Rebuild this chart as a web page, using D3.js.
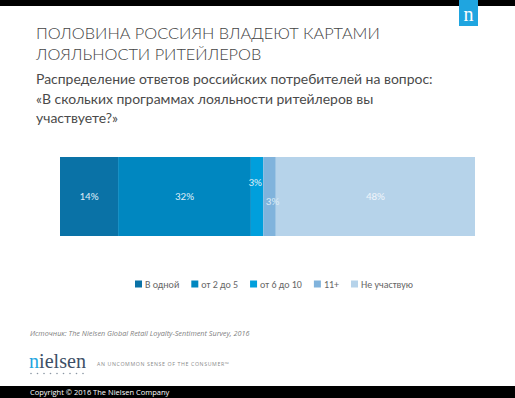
<!DOCTYPE html>
<html>
<head>
<meta charset="utf-8">
<script src="https://cdn.jsdelivr.net/npm/d3@7"></script>
<style>
  body { margin: 0; background: #fff; }
  svg { display: block; }
</style>
</head>
<body>
<div id="vis"></div>
<script>
const categories = ["В одной", "от 2 до 5", "от 6 до 10", "11+", "Не участвую"];
const shares = [14, 32, 3, 3, 48];
const barLabels = ["14%", "32%", "3%", "3%", "48%"];
const titleLines = ["ПОЛОВИНА РОССИЯН ВЛАДЕЮТ КАРТАМИ", "ЛОЯЛЬНОСТИ РИТЕЙЛЕРОВ"];
const subtitleLines = [
  "Распределение ответов российских потребителей на вопрос:",
  "«В скольких программах лояльности ритейлеров вы",
  "участвуете?»"
];
const sourceText = "Источник: The Nielsen Global Retail Loyalty-Sentiment Survey, 2016";

const colors = ["#0a72a6", "#0087c0", "#009fdc", "#80b3dc", "#b6d3ea"];
// small labels on the thin segments get pushed off each other
const labelShift = [[0, 0], [0, 0], [-2, -14], [3, 5], [0, 0]];

const W = 515, H = 398;
const svg = d3.select("#vis").append("svg")
  .attr("width", W)
  .attr("height", H);

svg.append("rect").attr("width", W).attr("height", H).attr("fill", "#fff");

// black bands top and bottom
svg.append("rect").attr("x", 0).attr("y", 0).attr("width", W).attr("height", 6).attr("fill", "#000");
svg.append("rect").attr("x", 0).attr("y", 386).attr("width", W).attr("height", 12).attr("fill", "#000");

// nielsen corner badge
svg.append("rect").attr("x", 459).attr("y", 0).attr("width", 19).attr("height", 26).attr("fill", "#1fa5e0");
svg.append("text")
  .attr("x", 468.5).attr("y", 21)
  .attr("text-anchor", "middle")
  .attr("font-family", "'Liberation Serif', 'DejaVu Serif', serif")
  .attr("font-size", 20)
  .attr("fill", "#fff")
  .text("n");

const fitText = (sel, target) => {
  const w = sel.node().getComputedTextLength();
  const fs = parseFloat(sel.attr("font-size"));
  sel.attr("font-size", fs * target / w);
};

// title
const titleFont = "Lato, 'Open Sans', 'DejaVu Sans', sans-serif";
const t1 = svg.append("text")
  .attr("x", 36).attr("y", 39)
  .attr("font-family", titleFont)
  .attr("font-weight", 300)
  .attr("font-size", 17)
  .attr("fill", "#444")
  .text(titleLines[0]);
fitText(t1, 344);
svg.append("text")
  .attr("x", 36).attr("y", 60)
  .attr("font-family", titleFont)
  .attr("font-weight", 300)
  .attr("font-size", t1.attr("font-size"))
  .attr("fill", "#444")
  .text(titleLines[1]);

// subtitle
const subText = svg.append("g")
  .attr("font-family", titleFont)
  .attr("fill", "#4a4a4a")
  .selectAll("text")
  .data(subtitleLines)
  .join("text")
  .attr("x", 36)
  .attr("y", (d, i) => 84 + i * 19.5)
  .attr("font-size", 13.5)
  .text(d => d);
const s0 = d3.select(subText.nodes()[0]);
fitText(s0, 397);
subText.attr("font-size", s0.attr("font-size"));

// stacked bar
const x = d3.scaleLinear().domain([0, 100]).range([60, 475]);
const y = d3.scaleBand().domain(["all"]).range([157, 236]).padding(0);

const ends = Array.from(d3.cumsum(shares));
const segs = shares.map((v, i) => ({
  cat: categories[i],
  v,
  x0: ends[i] - v,
  x1: ends[i],
  label: barLabels[i],
  color: colors[i],
  shift: labelShift[i]
}));

const bar = svg.append("g");
bar.selectAll("rect")
  .data(segs)
  .join("rect")
  .attr("x", d => x(d.x0))
  .attr("y", y("all"))
  .attr("width", d => x(d.x1) - x(d.x0))
  .attr("height", y.bandwidth())
  .attr("fill", d => d.color);

bar.selectAll("text")
  .data(segs)
  .join("text")
  .attr("x", d => (x(d.x0) + x(d.x1)) / 2 + d.shift[0])
  .attr("y", d => y("all") + y.bandwidth() / 2 + d.shift[1])
  .attr("dy", "0.35em")
  .attr("text-anchor", "middle")
  .attr("font-family", "Carlito, 'Liberation Sans', 'Open Sans', sans-serif")
  .attr("font-size", 11)
  .attr("fill", (d, i) => i === 4 ? "#eef4fa" : "#dcecf7")
  .text(d => d.label);

// legend
const legend = svg.append("g")
  .attr("font-family", "Carlito, 'Liberation Sans', 'Open Sans', sans-serif")
  .attr("font-size", 10)
  .attr("fill", "#666");
let lx = 135;
categories.forEach((c, i) => {
  legend.append("rect")
    .attr("x", lx).attr("y", 280.5)
    .attr("width", 7).attr("height", 7)
    .attr("fill", colors[i]);
  const t = legend.append("text")
    .attr("x", lx + 10).attr("y", 287.5)
    .text(c);
  lx += 10 + t.node().getComputedTextLength() + 12;
});

// source
const src = svg.append("text")
  .attr("x", 30).attr("y", 336)
  .attr("font-family", "'Open Sans', 'Liberation Sans', sans-serif")
  .attr("font-style", "italic")
  .attr("font-size", 7.5)
  .attr("fill", "#7f7f7f")
  .text(sourceText);
fitText(src, 220);

// nielsen wordmark
const logo = svg.append("text")
  .attr("x", 29).attr("y", 368)
  .attr("font-family", "'Liberation Serif', 'DejaVu Serif', serif")
  .attr("font-size", 20)
  .attr("fill", "#3d4f66");
logo.append("tspan").attr("fill", "#1fa5e0").text("n");
logo.append("tspan").text("ielsen");
fitText(logo, 57);

svg.append("g")
  .selectAll("circle")
  .data(d3.range(9))
  .join("circle")
  .attr("cx", d => 31 + d * 6.5)
  .attr("cy", 373.5)
  .attr("r", 0.8)
  .attr("fill", "#8a96a3");

const tag = svg.append("text")
  .attr("x", 97).attr("y", 366)
  .attr("font-family", "'Open Sans', 'Liberation Sans', sans-serif")
  .attr("font-size", 5.5)
  .attr("letter-spacing", 0.6)
  .attr("fill", "#8a8a8a")
  .text("AN UNCOMMON SENSE OF THE CONSUMER™");
fitText(tag, 132);

// copyright
svg.append("text")
  .attr("x", 30).attr("y", 395)
  .attr("font-family", "'Open Sans', 'Liberation Sans', sans-serif")
  .attr("font-size", 7.5)
  .attr("fill", "#fff")
  .text("Copyright © 2016 The Nielsen Company");
</script>
</body>
</html>
